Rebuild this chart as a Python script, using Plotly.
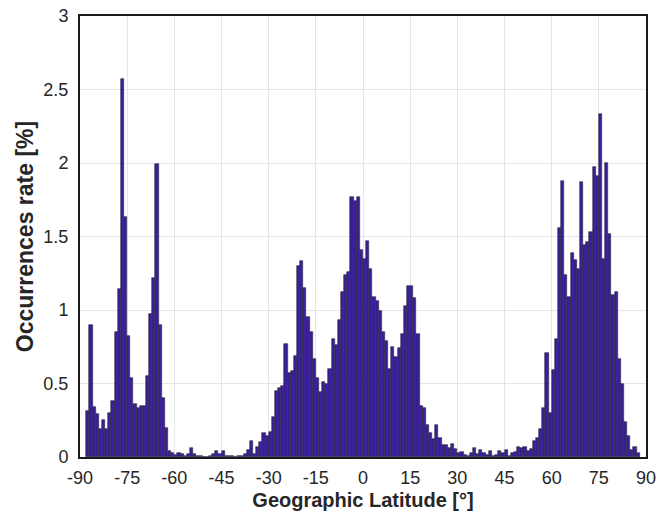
import plotly.graph_objects as go

# Left edges of 1-degree latitude bins
bin_left = list(range(-88, 88))
rate = [
    # -88 .. -60
    0.31, 0.90, 0.34, 0.29, 0.19, 0.25, 0.19, 0.30, 0.38, 0.85,
    1.14, 2.57, 1.63, 0.82, 0.54, 0.36, 0.33, 0.35, 0.35, 0.55,
    0.97, 1.22, 1.99, 0.90, 0.40, 0.20, 0.04, 0.025, 0.015,
    # -59 .. -49
    0.03, 0.02, 0.01, 0.02, 0.06, 0.02, 0.01, 0.004, 0.003, 0.003, 0.005,
    # -48 .. -39
    0.02, 0.04, 0.02, 0.04, 0.01, 0.01, 0.004, 0.003, 0.005, 0.008,
    # -38 .. -1
    0.02, 0.05, 0.11, 0.02, 0.07, 0.10, 0.16, 0.14, 0.17, 0.27,
    0.45, 0.47, 0.48, 0.77, 0.57, 0.585, 0.69, 1.30, 1.33, 1.15,
    0.95, 0.85, 0.67, 0.535, 0.44, 0.51, 0.50, 0.60, 0.80, 0.76,
    0.93, 1.12, 1.24, 1.26, 1.77, 1.74, 1.77, 1.41,
    # 0 .. 87
    1.35, 1.47, 1.28, 1.09, 1.06, 0.99, 0.85, 0.79, 0.60, 0.75,
    0.68, 0.74, 0.84, 1.03, 1.16, 1.16, 1.08, 0.84, 0.35, 0.33,
    0.22, 0.16, 0.125, 0.22, 0.13, 0.08, 0.08, 0.06, 0.09, 0.055,
    0.03, 0.035, 0.015, 0.005, 0.03, 0.06, 0.02, 0.05, 0.025, 0.015,
    0.04, 0.007, 0.016, 0.04, 0.03, 0.045, 0.005, 0.03, 0.035, 0.07,
    0.06, 0.065, 0.04, 0.055, 0.11, 0.13, 0.19, 0.33, 0.705, 0.30,
    0.59, 0.80, 1.555, 1.88, 1.24, 1.09, 1.39, 1.34, 1.28, 1.87,
    1.44, 1.46, 1.53, 1.975, 1.91, 2.33, 1.345, 2.00, 1.52, 1.10,
    1.12, 0.67, 0.50, 0.24, 0.14, 0.05, 0.065, 0.025,
]
x_ticks = list(range(-90, 91, 15))
y_ticks = [0, 0.5, 1, 1.5, 2, 2.5, 3]
y_tick_text = ["0", "0.5", "1", "1.5", "2", "2.5", "3"]

centers = [b + 0.5 for b in bin_left]

fig = go.Figure()
fig.add_trace(go.Bar(
    x=centers, y=rate, width=1.0,
    marker=dict(color="#3a1e9b", line=dict(color="#2b2b3a", width=0.6)),
))

font_family = "Liberation Sans, Arial, sans-serif"
fig.update_layout(
    width=657, height=524,
    margin=dict(l=80, r=11, t=16, b=67),
    plot_bgcolor="white", paper_bgcolor="white",
    showlegend=False, bargap=0,
    font=dict(family=font_family, size=17, color="#262626"),
)
fig.update_xaxes(
    range=[-90, 90], tickmode="array", tickvals=x_ticks,
    ticktext=[str(v) for v in x_ticks],
    showgrid=True, gridcolor="#e6e6e6", gridwidth=1,
    showline=True, linecolor="#1a1a1a", linewidth=2, mirror=True,
    ticks="", zeroline=False, ticklabelstandoff=3, automargin=False,
    title=dict(text="<b>Geographic Latitude [°]</b>", font=dict(size=20, color="#262626"), standoff=6),
    tickfont=dict(size=18, color="#262626"),
)
fig.update_yaxes(
    range=[0, 3], tickmode="array", tickvals=y_ticks, ticktext=y_tick_text,
    showgrid=True, gridcolor="#e6e6e6", gridwidth=1,
    showline=True, linecolor="#1a1a1a", linewidth=2, mirror=True,
    ticks="", zeroline=False, ticklabelstandoff=6, automargin=False,
    title=dict(text="<b>Occurrences rate [%]</b>", font=dict(size=23, color="#262626"), standoff=3),
    tickfont=dict(size=18, color="#262626"),
)

fig.write_html("out.html")
